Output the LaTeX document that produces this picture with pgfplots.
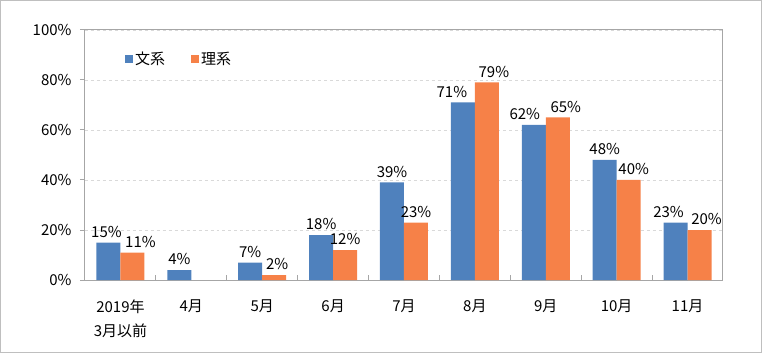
\documentclass[border=0pt]{standalone}
\usepackage{fontspec}
\setmainfont{Noto Sans CJK JP}
\usepackage{pgfplots}
\pgfplotsset{compat=1.18}
\definecolor{bblue}{HTML}{4F81BD}
\definecolor{borange}{HTML}{F68148}
\definecolor{axgray}{HTML}{A6A6A6}
\definecolor{gridgray}{HTML}{D9D9D9}
\definecolor{framegray}{HTML}{BFBFBF}
\begin{document}
\begin{tikzpicture}
\begin{axis}[
  at={(0,0)}, anchor=south west,
  scale only axis, width=638bp, height=250bp,
  font=\fontsize{15bp}{17bp}\selectfont,
  xmin=-0.5, xmax=8.5, ymin=0, ymax=100,
  ybar=0pt, bar width=24bp,
  axis line style={draw=axgray, line width=1bp},
  ytick={0,20,40,60,80,100},
  yticklabels={0\%,20\%,40\%,60\%,80\%,100\%},
  ytick pos=left,
  y tick style={draw=axgray, line width=1bp},
  tick align=outside,
  major tick length=5bp,
  yticklabel style={xshift=-5bp},
  ymajorgrids, grid style={dashed, gridgray, line width=0.75bp},
  xtick={0,...,8},
  xticklabels={{2019年\\3月以前},4月,5月,6月,7月,8月,9月,10月,11月},
  xticklabel style={align=center, yshift=-11bp, font=\fontsize{15bp}{24bp}\selectfont},
  x tick style={draw=none},
  xtick pos=bottom,
  extra x ticks={0.5,1.5,...,7.5},
  extra x tick labels={},
  extra x tick style={tick align=inside, x tick style={draw=axgray, line width=1bp}, xticklabel style={yshift=0bp}},
  legend style={at={(0.058,0.93)}, anchor=north west, draw=none, fill=none,
    font=\fontsize{15bp}{17bp}\selectfont, legend columns=2,
    /tikz/every even column/.append style={column sep=24bp}},
  legend image code/.code={\fill[#1] (0bp,-4bp) rectangle (8bp,4bp);},
  nodes near coords={\pgfmathprintnumber[assume math mode=true]{\pgfplotspointmeta}\%},
  every node near coord/.append style={font=\fontsize{15bp}{17bp}\selectfont, text=black, inner sep=2bp, yshift=3bp},
  point meta=y,
]
\addplot[fill=bblue, draw=none,
  coordinate style/.condition={x==5}{xshift=-11bp},
  coordinate style/.condition={x==6}{xshift=-9bp},
  coordinate style/.condition={x==8}{xshift=-7bp},
  coordinate style/.condition={x==0}{xshift=-2bp}]
  coordinates {(0,15) (1,4) (2,7) (3,18) (4,39) (5,71) (6,62) (7,48) (8,23)};
\addplot[fill=borange, draw=none,
  coordinate style/.condition={x==0}{xshift=8bp},
  coordinate style/.condition={x==2}{xshift=3bp},
  coordinate style/.condition={x==5}{xshift=7bp},
  coordinate style/.condition={x==6}{xshift=8bp},
  coordinate style/.condition={x==7}{xshift=5bp},
  coordinate style/.condition={x==8}{xshift=7bp}]
  coordinates {(0,11) (2,2) (3,12) (4,23) (5,79) (6,65) (7,40) (8,20)};
\legend{文系,理系}
\end{axis}
\draw[framegray, line width=1bp] (-84.5bp,-72.5bp) rectangle (676.5bp,279.5bp);
\end{tikzpicture}
\end{document}
